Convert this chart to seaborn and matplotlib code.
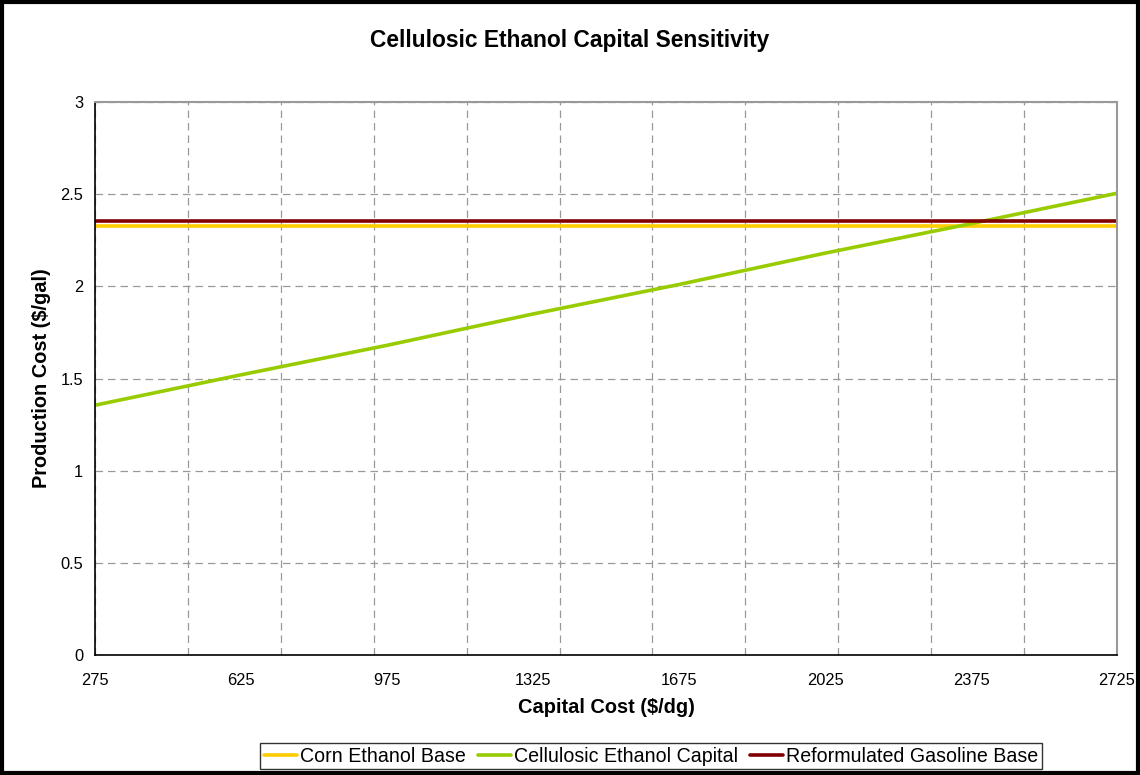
import numpy as np
import pandas as pd
import matplotlib
matplotlib.use("Agg")
import matplotlib.pyplot as plt
import seaborn as sns

# valeurs
capital = [275, 625, 975, 1325, 1675, 2025, 2375, 2725]
cellulosic = [1.355, 1.52, 1.68, 1.85, 2.01, 2.18, 2.34, 2.505]
corn_x = [275, 2725]
corn = [2.33, 2.33]
gasoline_x = [275, 2725]
gasoline = [2.355, 2.355]

series_names = ["Corn Ethanol Base", "Cellulosic Ethanol Capital", "Reformulated Gasoline Base"]
series_colors = ["#FFCC00", "#99CC00", "#800000"]

df = pd.concat([
    pd.DataFrame({"x": corn_x, "y": corn, "serie": series_names[0]}),
    pd.DataFrame({"x": capital, "y": cellulosic, "serie": series_names[1]}),
    pd.DataFrame({"x": gasoline_x, "y": gasoline, "serie": series_names[2]}),
], ignore_index=True)

sns.set_style("white")
plt.rcParams["font.family"] = ["Liberation Sans", "DejaVu Sans"]
plt.rcParams["text.color"] = "black"
plt.rcParams["axes.labelcolor"] = "black"
plt.rcParams["xtick.color"] = "black"
plt.rcParams["ytick.color"] = "black"

fig = plt.figure(figsize=(11.4, 7.75), dpi=100)
ax = fig.add_axes([95 / 1140, 1 - 655 / 775, (1117 - 95) / 1140, (655 - 102) / 775])

sns.lineplot(data=df, x="x", y="y", hue="serie", hue_order=series_names,
             palette=dict(zip(series_names, series_colors)), linewidth=2.6, ax=ax)

ax.set_xlim(275, 2725)
ax.set_ylim(0, 3)

# graduations / grille
ax.xaxis.remove_overlapping_locs = False
grid_x = np.linspace(275, 2725, 12)
ax.set_xticks(grid_x)
ax.set_xticklabels([])
ax.set_xticks(capital, minor=True)
ax.set_xticklabels([str(v) for v in capital], minor=True, fontsize=11.8)
ax.tick_params(axis="x", which="major", length=5, width=1, color="black", direction="out")
ax.tick_params(axis="x", which="minor", length=0, pad=13)
ax.set_yticks(np.arange(0, 3.01, 0.5))
ax.set_yticklabels(["0", "0.5", "1", "1.5", "2", "2.5", "3"], fontsize=11.8)
ax.tick_params(axis="y", length=5, width=1, color="black", direction="out")
ax.grid(True, which="major", color="#999999", linestyle=(0, (6, 4)), linewidth=0.9)
ax.set_axisbelow(True)

for side in ["left", "bottom"]:
    ax.spines[side].set_color("black")
    ax.spines[side].set_linewidth(1.2)
for side in ["top", "right"]:
    ax.spines[side].set_color("#999999")
    ax.spines[side].set_linewidth(1.5)

ax.set_xlabel("Capital Cost ($/dg)", fontsize=14.4, fontweight="bold", labelpad=7)
ax.set_ylabel("Production Cost ($/gal)", fontsize=14.4, fontweight="bold", labelpad=7)
fig.text(0.5, 1 - 40 / 775, "Cellulosic Ethanol Capital Sensitivity",
         ha="center", va="center", fontsize=16.4, fontweight="bold")

leg = ax.legend(loc="center", bbox_to_anchor=((651 - 95) / 1022, 1 - (756 - 102) / 553), ncol=3,
                frameon=True, fontsize=14.1, handlelength=1.7, handletextpad=0.15,
                columnspacing=0.6, borderpad=0.2, borderaxespad=0, fancybox=False)
leg.get_frame().set_edgecolor("black")
leg.get_frame().set_linewidth(1.0)

fig.patches.append(plt.Rectangle((0.002, 0.002), 0.996, 0.996, transform=fig.transFigure,
                                 fill=False, edgecolor="black", linewidth=3))

fig.savefig("out.png", dpi=100, facecolor="white")
